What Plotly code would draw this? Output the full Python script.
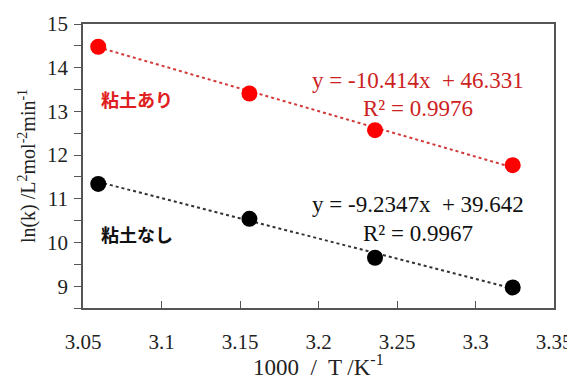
import plotly.graph_objects as go

# Data
x_vals = [3.0597, 3.156, 3.236, 3.3237]
y_with_clay = [14.48, 13.41, 12.57, 11.77]
y_without_clay = [11.34, 10.54, 9.65, 8.97]
fit_with = (-10.414, 46.331)
fit_without = (-9.2347, 39.642)
eq_with = ["y = -10.414x  + 46.331", "R² = 0.9976"]
eq_without = ["y = -9.2347x  + 39.642", "R² = 0.9967"]
label_with = "粘土あり"
label_without = "粘土なし"
x_title = "1000  /  T /K<sup>-1</sup>"
y_title = "ln(k) /L<sup>2</sup>mol<sup>-2</sup>min<sup>-1</sup>"
x_ticks = [3.05, 3.1, 3.15, 3.2, 3.25, 3.3, 3.35]
x_ticktext = ["3.05", "3.1", "3.15", "3.2", "3.25", "3.3", "3.35"]
y_ticks = [9, 10, 11, 12, 13, 14, 15]
y_minor = [8.5, 9.5, 10.5, 11.5, 12.5, 13.5, 14.5]

serif = "Liberation Serif"
cjk = "Noto Sans CJK JP"

# page body has an 8px margin: figure is 567x370 placed at (8, 8)
OFF = 8
W, H = 575 - OFF, 378 - OFF
L, R, T, B = 83, 554, 24, 308  # plot area in window pixels
X0, X1, Y0, Y1 = 3.05, 3.35, 8.5, 15


def px2x(px):
    return X0 + (px - L) / (R - L) * (X1 - X0)


def px2y(py):
    return Y1 - (py - T) / (B - T) * (Y1 - Y0)


fig = go.Figure()

xe = [x_vals[0], x_vals[-1]]
for (m, b), col in [(fit_with, "#d23a3a"), (fit_without, "#333333")]:
    fig.add_trace(go.Scatter(x=xe, y=[m * v + b for v in xe], mode="lines",
                             line=dict(color=col, width=2, dash="dot"),
                             showlegend=False, hoverinfo="skip"))

fig.add_trace(go.Scatter(x=x_vals, y=y_with_clay, mode="markers",
                         marker=dict(color="#ff0000", size=16, line=dict(width=0)),
                         showlegend=False))
fig.add_trace(go.Scatter(x=x_vals, y=y_without_clay, mode="markers",
                         marker=dict(color="#000000", size=16, line=dict(width=0)),
                         showlegend=False))

tickfont = dict(family=serif, size=21, color="#222")
fig.update_layout(
    width=W, height=H,
    margin=dict(l=L - OFF, r=575 - R, t=T - OFF, b=378 - B, autoexpand=False),
    plot_bgcolor="white", paper_bgcolor="white",
    font=dict(family=serif, size=20, color="#222"),
    xaxis=dict(range=[X0, X1], tickvals=x_ticks, ticktext=x_ticktext, ticks="inside", ticklen=7,
               tickcolor="#555", showline=True, linecolor="#555", linewidth=1.5, mirror=True,
               showgrid=False, zeroline=False, ticklabelstandoff=14, automargin=False,
               tickfont=tickfont),
    yaxis=dict(range=[Y0, Y1], tickvals=y_ticks, ticks="outside", ticklen=7,
               tickcolor="#555", showline=True, linecolor="#555", linewidth=1.5, mirror=True,
               showgrid=False, zeroline=False, ticklabelstandoff=2, automargin=False,
               tickfont=tickfont,
               minor=dict(tickvals=y_minor, ticks="outside", ticklen=7, tickcolor="#555"),
               title=dict(text=y_title, font=dict(family=serif, size=20, color="#222"), standoff=6)),
)

# x-axis title placed below the tick labels
fig.add_annotation(x=0.5, y=-(365 - B) / (B - T), xref="paper", yref="paper",
                   xanchor="center", yanchor="middle", text=x_title, showarrow=False,
                   font=dict(family=serif, size=23, color="#222"))

fig.add_annotation(x=px2x(137), y=px2y(99), text=label_with, showarrow=False,
                   font=dict(family=cjk, size=18, color="#e02020", weight="bold"))
fig.add_annotation(x=px2x(137), y=px2y(234), text=label_without, showarrow=False,
                   font=dict(family=cjk, size=18, color="#111111", weight="bold"))
eqfont_r = dict(family=serif, size=23, color="#cc2222")
eqfont_k = dict(family=serif, size=23, color="#111111")
fig.add_annotation(x=px2x(418), y=px2y(80), text=eq_with[0], showarrow=False, font=eqfont_r)
fig.add_annotation(x=px2x(418), y=px2y(108), text=eq_with[1], showarrow=False, font=eqfont_r)
fig.add_annotation(x=px2x(418), y=px2y(204), text=eq_without[0], showarrow=False, font=eqfont_k)
fig.add_annotation(x=px2x(418), y=px2y(233), text=eq_without[1], showarrow=False, font=eqfont_k)

fig.write_html("out.html")
